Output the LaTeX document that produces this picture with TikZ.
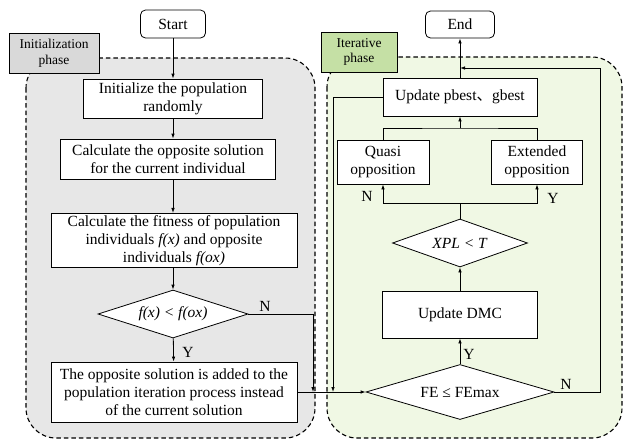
\documentclass[tikz,border=0pt]{standalone}
\usepackage{fontspec}
\setmainfont{Liberation Serif}
\newfontfamily\cjk{Noto Sans CJK SC}
\usetikzlibrary{shapes.geometric,arrows.meta}

\definecolor{initfill}{HTML}{E7E7E7}
\definecolor{initlab}{HTML}{D9D9D9}
\definecolor{iterfill}{HTML}{F0F8E4}
\definecolor{iterlab}{HTML}{C5E0A5}

\tikzset{
    stepbox/.style={draw, fill=white, align=center, inner sep=2pt, line width=0.8pt},
    term/.style={stepbox, rounded corners=5pt},
    test/.style={diamond, shape aspect=3, draw, fill=white, align=center, inner sep=0pt, line width=0.8pt},
    phase/.style={draw, align=center, inner sep=1pt, line width=0.8pt,
        font=\fontsize{13.5}{15.5}\selectfont},
    region/.style={draw, line width=1.1pt, dash pattern=on 4.5pt off 3pt, rounded corners=30pt},
    flow/.style={-{Latex[length=5pt,width=3.5pt]}, line width=0.8pt},
    line/.style={line width=0.8pt},
}

\begin{document}
\begin{tikzpicture}[x=1pt, y=-1pt, font=\fontsize{15.5}{18}\selectfont]

        \useasboundingbox (0,0) rectangle (624,440);

        % phases
        \draw[region, fill=initfill] (26,58) rectangle (315,438);
        \draw[region, fill=iterfill] (327,57) rectangle (622,438);
        \node[phase, fill=initlab, minimum width=90pt, minimum height=40pt] (initphase) at (54,53) {Initialization\\phase};
        \node[phase, fill=iterlab, minimum width=76pt, minimum height=40pt] (iterphase) at (359,52) {Iterative\\phase};

        % initialization
        \node[term, minimum width=65pt, minimum height=28pt] (start) at (173,24) {Start};
        \node[stepbox, minimum width=179pt, minimum height=39pt] (init) at (173,98.5) {Initialize the population\\randomly};
        \node[stepbox, minimum width=215pt, minimum height=40pt] (opp) at (168,159) {Calculate the opposite solution\\for the current individual};
        \node[stepbox, minimum width=246pt, minimum height=51pt] (fit) at (174,240.5) {Calculate the fitness of population\\individuals \textit{f(x)} and opposite\\individuals \textit{f(ox)}};
        \node[test, minimum width=150pt, minimum height=48pt] (cmp) at (173,314) {\textit{f(x) < f(ox)}};
        \node[stepbox, minimum width=246pt, minimum height=60pt] (add) at (174,392) {The opposite solution is added to the\\population iteration process instead\\of the current solution};

        % iteration
        \node[term, minimum width=69pt, minimum height=27pt] (end) at (460,24.5) {End};
        \node[stepbox, minimum width=154pt, minimum height=38pt] (upd) at (460,97) {Update pbest{\cjk 、}gbest};
        \node[stepbox, minimum width=92pt, minimum height=44pt] (quasi) at (383,162) {Quasi\\opposition};
        \node[stepbox, minimum width=91pt, minimum height=44pt] (ext) at (537,162) {Extended\\opposition};
        \node[test, minimum width=135pt, minimum height=48pt] (xpl) at (460,243) {\textit{XPL < T}};
        \node[stepbox, minimum width=155pt, minimum height=47pt] (dmc) at (460,314.5) {Update DMC};
        \node[test, minimum width=188pt, minimum height=55pt] (fe) at (460,392) {FE ≤ FEmax};

        \coordinate (jn) at (313,392);
        \coordinate (ju) at (333,392);
        \coordinate (jb) at (460,203);
        \coordinate (jm) at (460,128);
        \coordinate (jt) at (460,68);

        \draw[flow] (start) -- (init);
        \draw[flow] (init) -- (init |- opp.north);
        \draw[flow] (init |- opp.south) -- (init |- fit.north);
        \draw[flow] (fit.south -| cmp) -- (cmp);
        \draw[flow] (cmp) -- (add);
        \draw[flow] (cmp.east) -| (jn);
        \draw[flow] (add.east) -- (fe.west);

        \draw[flow] (fe) -- (dmc);
        \draw[flow] (dmc) -- (xpl);
        \draw[line] (xpl.north) -- (jb);
        \draw[flow] (jb) -| (quasi.south);
        \draw[flow] (jb) -| (ext.south);
        \draw[line] (quasi.north) |- (jm) -| (ext.north);
        \draw[flow] (jm) -- (upd.south);
        \draw[flow] (upd) -- (end);
        \draw[flow] (upd.west) -| (ju);
        \draw[flow] (fe.east) -- ++(46,0) |- (jt);

        \node (ycmp) at (188,352) {Y};
        \node (ncmp) at (265,306) {N};
        \node (nxpl) at (367,196) {N};
        \node (yxpl) at (553,198) {Y};
        \node (yfe) at (469,354) {Y};
        \node (nfe) at (566,384) {N};

    \end{tikzpicture}
\end{document}
